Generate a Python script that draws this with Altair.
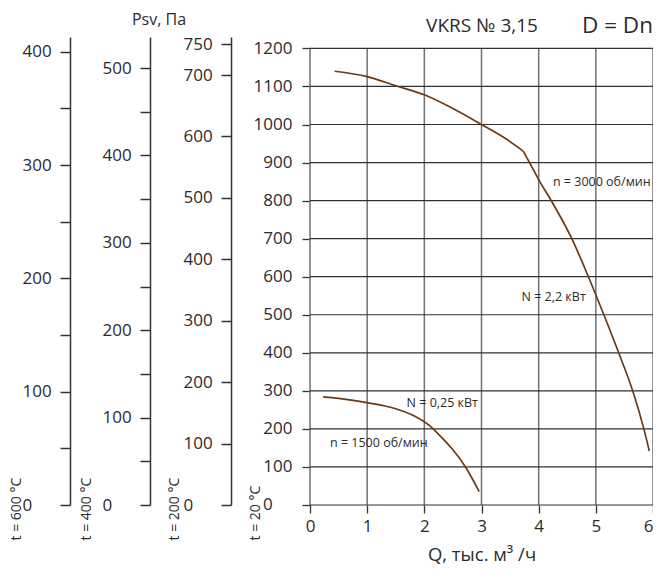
import altair as alt
import pandas as pd

FONT = "Open Sans"
TXT = "#2b2b2b"
CURVE = "#6b3a14"

# ---- data ----
# n = 3000 rpm curve: upper branch and lower branch meet at the corner (3.73, 930)
q_3000_a = [0.43, 1.0, 1.5, 2.0, 2.5, 3.0, 3.4, 3.73]
p_3000_a = [1140, 1126, 1102, 1078, 1042, 1000, 965, 930]
q_3000_b = [3.73, 3.84, 4.02, 4.22, 4.58, 4.87, 5.14, 5.40, 5.645, 5.84, 5.935]
p_3000_b = [930, 900, 850, 800, 700, 600, 500, 400, 300, 200, 142]
q_1500 = [0.23, 0.5, 1.0, 1.5, 1.85, 2.08, 2.3, 2.5, 2.72, 2.96]
p_1500 = [284, 280, 269, 253, 232, 210, 178, 145, 100, 35]

q_ticks = [0, 1, 2, 3, 4, 5, 6]
p_ticks = [0, 100, 200, 300, 400, 500, 600, 700, 800, 900, 1000, 1100, 1200]
t600_ticks = [0, 50, 100, 150, 200, 250, 300, 350, 400]
t400_ticks = [0, 50, 100, 150, 200, 250, 300, 350, 400, 450, 500]
t200_ticks = [0, 100, 200, 300, 400, 500, 600, 700, 750]

ann_text = ["n = 3000 об/мин", "N = 2,2 кВт", "N = 0,25 кВт", "n = 1500 об/мин"]
ann_q = [4.25, 3.7, 1.69, 0.35]
ann_p = [848, 546, 268, 163]

W, H = 343, 468
P_TOP = 1230
T600_TOP = 413
T400_TOP = 535.5
T200_TOP = 762

xs = alt.Scale(domain=[0, 6], nice=False, zero=False)
ys = alt.Scale(domain=[0, P_TOP], nice=False)

x_axis = alt.Axis(values=q_ticks, grid=False, domain=False, tickSize=8, tickColor="#333333",
                  tickWidth=1.3, labelFlush=False, labelPadding=5, labelFontSize=17,
                  labelAlign={"condition": {"test": "datum.value == 6", "value": "right"},
                              "value": "center"},
                  title="Q, тыс. м³ /ч", titleFontSize=18.5, titlePadding=11)
y_axis = alt.Axis(values=p_ticks, format="d", labelExpr="datum.value == 0 ? '' : datum.label",
                  grid=False, domain=False, tickSize=8, tickColor="#333333", tickWidth=1.3,
                  labelPadding=10, labelFontSize=17, labelOverlap=False,
                  title="t = 20 °C", titleAngle=270, titleAlign="left", titleBaseline="middle",
                  titleX=-55, titleY=503, titleFontSize=14)

vgrid = alt.Chart(pd.DataFrame({"q": q_ticks, "lo": p_ticks[0], "hi": p_ticks[-1]})).mark_rule(
    color="#707070", strokeWidth=1.5).encode(
    x=alt.X("q:Q", scale=xs, axis=x_axis),
    y=alt.Y("lo:Q", scale=ys, axis=y_axis),
    y2="hi:Q")

hgrid = alt.Chart(pd.DataFrame({"p": p_ticks, "lo": q_ticks[0], "hi": q_ticks[-1]})).mark_rule(
    color="#303030", strokeWidth=1.2).encode(
    x=alt.X("lo:Q", scale=xs, axis=x_axis),
    x2="hi:Q",
    y=alt.Y("p:Q", scale=ys, axis=y_axis))

df_curves = pd.concat([
    pd.DataFrame({"q": q_3000_a, "p": p_3000_a, "n": "3000a"}),
    pd.DataFrame({"q": q_3000_b, "p": p_3000_b, "n": "3000b"}),
    pd.DataFrame({"q": q_1500, "p": p_1500, "n": "1500"}),
])
curves = alt.Chart(df_curves).mark_line(color=CURVE, strokeWidth=1.7, interpolate="monotone").encode(
    x=alt.X("q:Q", scale=xs, axis=x_axis),
    y=alt.Y("p:Q", scale=ys, axis=y_axis),
    detail="n:N")

ann = alt.Chart(pd.DataFrame({"q": ann_q, "p": ann_p, "t": ann_text})).mark_text(
    align="left", baseline="middle", font=FONT, fontSize=12.5, color=TXT).encode(
    x=alt.X("q:Q", scale=xs, axis=x_axis),
    y=alt.Y("p:Q", scale=ys, axis=y_axis),
    text="t:N")

zero = alt.Chart(pd.DataFrame({"q": [q_ticks[0]], "p": [p_ticks[0]], "t": ["0"]})).mark_text(
    align="left", baseline="middle", dx=-47, font=FONT, fontSize=17, color=TXT).encode(
    x=alt.X("q:Q", scale=xs, axis=x_axis),
    y=alt.Y("p:Q", scale=ys, axis=y_axis),
    text="t:N")

t_psv = alt.Chart().mark_text(text="Psv, Па", font=FONT, fontSize=16, color=TXT,
                              align="center", baseline="alphabetic").encode(
    x=alt.value(-151), y=alt.value(-12))
t_name = alt.Chart().mark_text(text="VKRS № 3,15", font=FONT, fontSize=19, color=TXT,
                               align="center", baseline="alphabetic").encode(
    x=alt.value(172), y=alt.value(-5))
t_d = alt.Chart().mark_text(text="D = Dn", font=FONT, fontSize=22.5, color=TXT,
                            align="right", baseline="alphabetic").encode(
    x=alt.value(W), y=alt.value(-4))

main = alt.layer(vgrid, hgrid, curves, ann, zero, t_psv, t_name, t_d)


def extra_axis(ticks, top, offset, title, title_x, minor):
    expr = "datum.value % 100 == 0 ? datum.label : ''" if minor else "datum.label"
    return alt.Chart(pd.DataFrame({"v": ticks})).mark_point(opacity=0).encode(
        y=alt.Y("v:Q", scale=alt.Scale(domain=[0, top], nice=False),
                axis=alt.Axis(orient="left", offset=offset, values=ticks, format="d",
                              labelExpr=expr, labelOverlap=False, grid=False,
                              domainColor="#333333", domainWidth=1.5,
                              tickColor="#333333", tickWidth=1.5, tickSize=10,
                              labelAlign="left", labelPadding=38, labelFontSize=17,
                              title=title, titleAngle=270, titleAlign="left",
                              titleBaseline="middle", titleX=title_x, titleY=503,
                              titleFontSize=14)))


ax600 = extra_axis(t600_ticks, T600_TOP, 240, "t = 600 °C", -54, True)
ax400 = extra_axis(t400_ticks, T400_TOP, 160, "t = 400 °C", -64, True)
ax200 = extra_axis(t200_ticks, T200_TOP, 79, "t = 200 °C", -57, False)

chart = alt.layer(main, ax600, ax400, ax200).resolve_scale(y="independent").properties(
    width=W, height=H,
    autosize=alt.AutoSizeParams(type="none"),
    padding={"left": 302, "top": 29, "right": 0, "bottom": 60},
).configure_view(stroke=None).configure_axis(
    labelFont=FONT, titleFont=FONT, labelColor=TXT, titleColor=TXT, titleFontWeight="normal")

chart.save("out.html", embed_options={"renderer": "svg", "actions": False})
